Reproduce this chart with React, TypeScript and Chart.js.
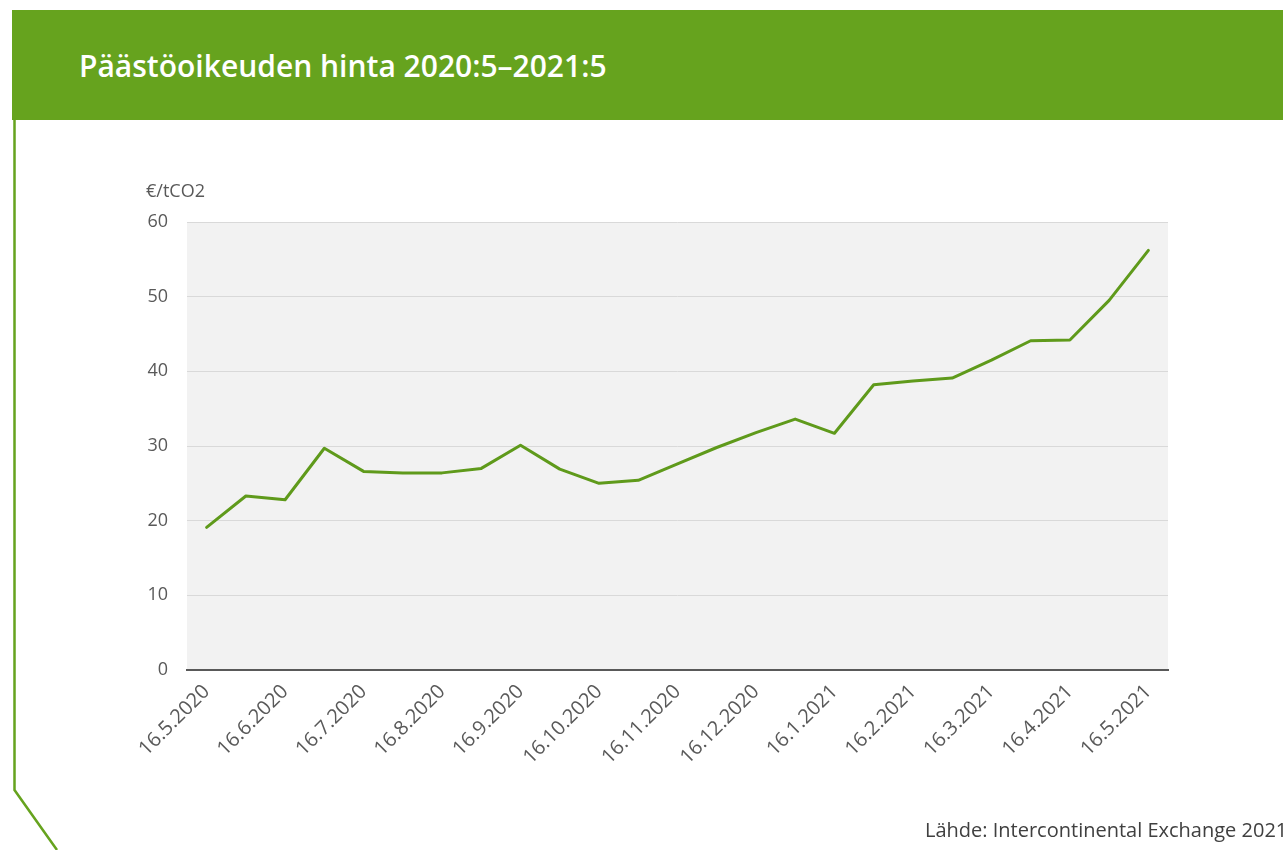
import React, { useEffect, useRef } from "react";
import { Chart, registerables } from "chart.js";

Chart.register(...registerables);

const TITLE = "Päästöoikeuden hinta 2020:5–2021:5";
const UNIT = "€/tCO2";
const SOURCE = "Lähde: Intercontinental Exchange 2021";

// Labels shown on the x axis (every other data point)
const tickLabels = [
  "16.5.2020", "16.6.2020", "16.7.2020", "16.8.2020", "16.9.2020",
  "16.10.2020", "16.11.2020", "16.12.2020", "16.1.2021", "16.2.2021",
  "16.3.2021", "16.4.2021", "16.5.2021",
];

// Price, €/tCO2 (semi-monthly observations)
const prices = [
  19.1, 23.3, 22.8, 29.7, 26.6, 26.4, 26.4, 27.0, 30.1, 26.9,
  25.0, 25.4, 27.6, 29.8, 31.8, 33.6, 31.7, 38.2, 38.7, 39.1,
  41.5, 44.1, 44.2, 49.5, 56.2,
];

const yTicks = [0, 10, 20, 30, 40, 50, 60];

const GREEN = "#66a31e";
const LINE = "#5f9a1b";
const TEXT = "#595959";
const FONT = "'Open Sans', 'Noto Sans', sans-serif";

// Build 25 categories: a tick label at every other point
const categories: string[] = prices.map((_, i) =>
  i % 2 === 0 ? tickLabels[i / 2] : ""
);

const plotBg = {
  id: "plotBg",
  beforeDraw(chart: any) {
    const { ctx, chartArea } = chart;
    ctx.save();
    ctx.fillStyle = "#f2f2f2";
    ctx.fillRect(chartArea.left, chartArea.top, chartArea.right - chartArea.left, chartArea.bottom - chartArea.top);
    ctx.restore();
  },
};

function PriceChart() {
  const ref = useRef<HTMLCanvasElement | null>(null);
  useEffect(() => {
    if (!ref.current) return;
    const chart = new Chart(ref.current, {
      type: "line",
      data: {
        labels: categories,
        datasets: [
          {
            data: prices,
            borderColor: LINE,
            borderWidth: 3,
            pointRadius: 0,
            tension: 0,
            fill: false,
            borderCapStyle: "round",
            borderJoinStyle: "round",
          },
        ],
      },
      options: {
        animation: false,
        responsive: false,
        maintainAspectRatio: false,
        layout: { padding: { left: 127, right: 115, top: 222, bottom: 50 } },
        plugins: {
          legend: { display: false },
          tooltip: { enabled: false },
          title: { display: false },
        },
        scales: {
          x: {
            type: "category",
            offset: true,
            grid: { display: false, drawTicks: false },
            border: { display: true, color: "#595959", width: 2 },
            ticks: {
              autoSkip: false,
              minRotation: 45,
              maxRotation: 45,
              padding: 10,
              color: TEXT,
              font: { family: FONT, size: 20 },
            },
            afterFit(scale: any) {
              scale.height = 130;
            },
          },
          y: {
            min: 0,
            max: 60,
            afterBuildTicks(scale: any) {
              scale.ticks = yTicks.map((v) => ({ value: v }));
            },
            grid: { color: "#d9d9d9", lineWidth: 1, drawTicks: false },
            border: { display: false },
            ticks: {
              padding: 19,
              color: TEXT,
              font: { family: FONT, size: 18 },
            },
            afterFit(scale: any) {
              scale.width = 60;
            },
          },
        },
      },
      plugins: [plotBg],
    });
    return () => chart.destroy();
  }, []);
  return (
    <canvas
      ref={ref}
      width={1283}
      height={850}
      style={{ position: "absolute", left: 0, top: 0, width: 1283, height: 850 }}
    />
  );
}

export default function App() {
  return (
    <div
      style={{
        position: "fixed",
        left: 0,
        top: 0,
        width: 1283,
        height: 850,
        overflow: "hidden",
        background: "#ffffff",
        fontFamily: FONT,
      }}
    >
      <div
        style={{
          position: "absolute",
          left: 12,
          top: 10,
          width: 1271,
          height: 110,
          background: GREEN,
        }}
      />
      <div
        style={{
          position: "absolute",
          left: 79,
          top: 46,
          color: "#ffffff",
          fontSize: 30,
          fontWeight: 600,
          lineHeight: "40px",
          whiteSpace: "nowrap",
        }}
      >
        {TITLE}
      </div>
      <svg
        width={1283}
        height={850}
        style={{ position: "absolute", left: 0, top: 0 }}
      >
        <polyline
          points="14.5,118 14.5,790 57,850"
          fill="none"
          stroke={GREEN}
          strokeWidth={2.5}
        />
      </svg>
      <PriceChart />
      <div
        style={{
          position: "absolute",
          left: 146,
          top: 177,
          color: TEXT,
          fontSize: 18,
          lineHeight: "26px",
          whiteSpace: "nowrap",
        }}
      >
        {UNIT}
      </div>
      <div
        style={{
          position: "absolute",
          left: 925,
          top: 816,
          color: "#404040",
          fontSize: 20,
          lineHeight: "28px",
          whiteSpace: "nowrap",
        }}
      >
        {SOURCE}
      </div>
    </div>
  );
}
